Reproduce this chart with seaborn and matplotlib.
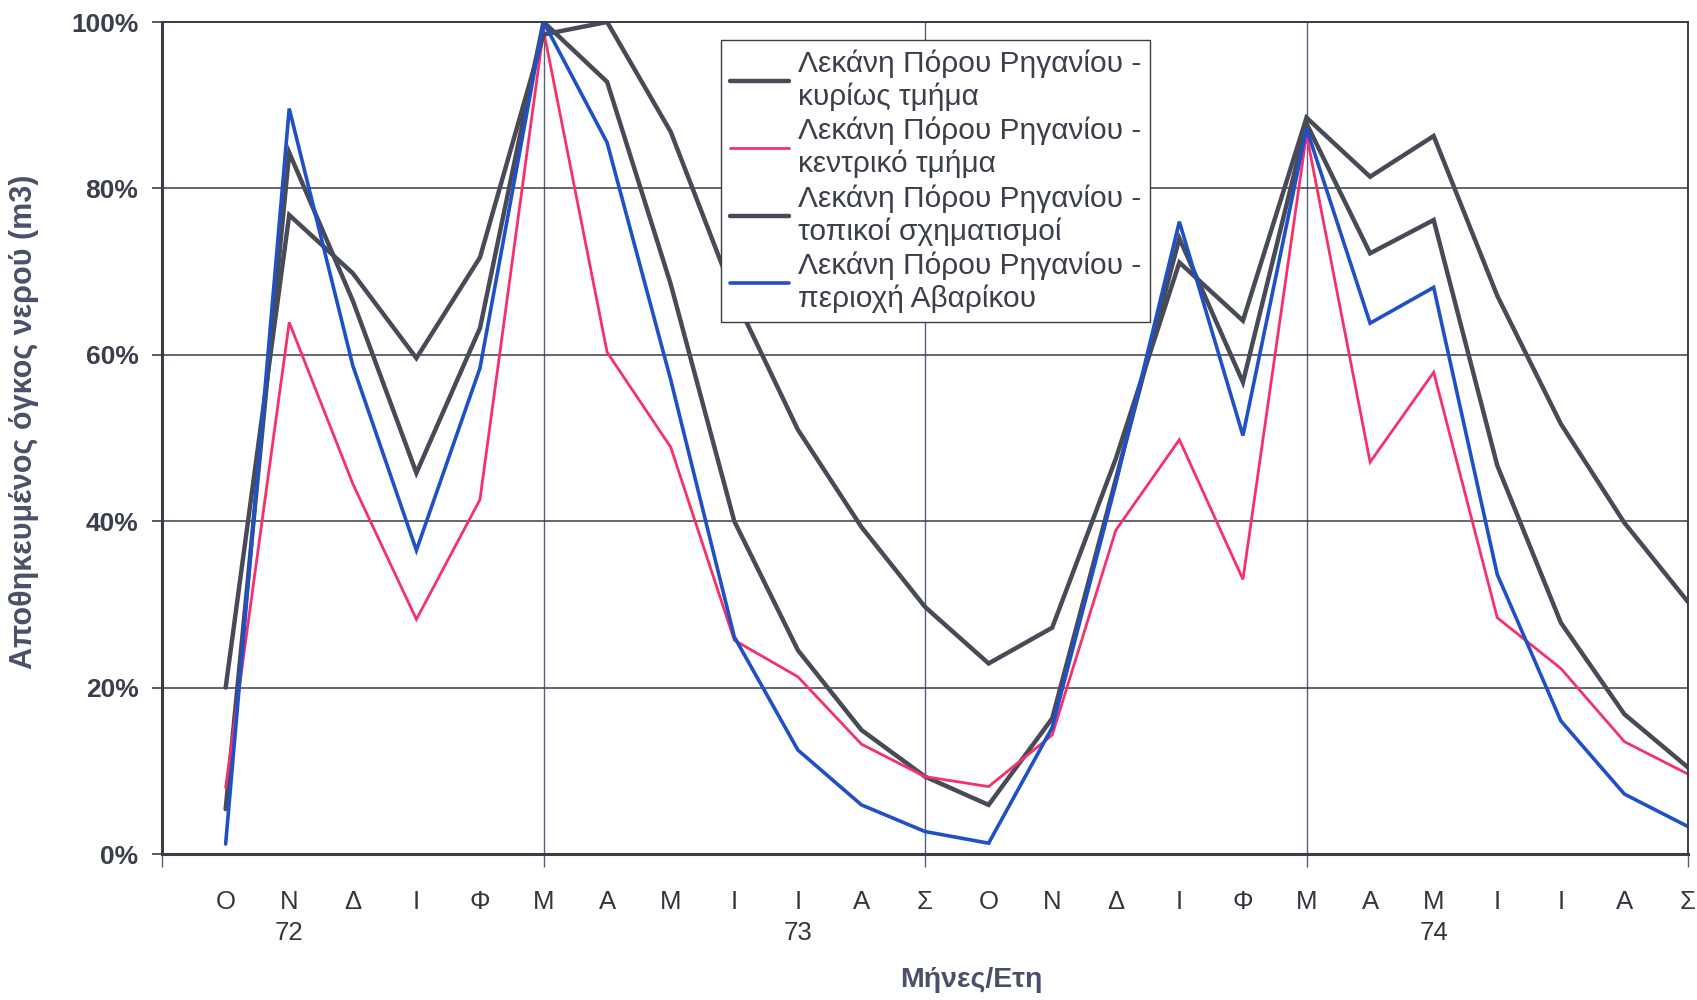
import numpy as np
import pandas as pd
import matplotlib
matplotlib.use("Agg")
import matplotlib.pyplot as plt
import matplotlib.transforms as mtransforms
from matplotlib.ticker import PercentFormatter, FixedLocator
import seaborn as sns

# ---------------- data ----------------
months = ["Ο", "Ν", "Δ", "Ι", "Φ", "Μ", "Α", "Μ", "Ι", "Ι", "Α", "Σ",
          "Ο", "Ν", "Δ", "Ι", "Φ", "Μ", "Α", "Μ", "Ι", "Ι", "Α", "Σ"]
years = ["72", "73", "74"]
year_pos = [1, 9, 19]

kyrios = [5.4, 84.3, 66.5, 45.8, 63.2, 100, 92.8, 68.5, 40.0, 24.5, 14.9, 9.3,
          5.9, 16.3, 45.0, 74.0, 56.7, 87.8, 72.2, 76.2, 46.7, 27.8, 16.8, 10.4]
kentriko = [8.0, 63.9, 44.5, 28.2, 42.6, 99.0, 60.3, 48.9, 25.7, 21.3, 13.2, 9.3,
            8.1, 14.3, 38.9, 49.8, 33.0, 86.5, 47.1, 57.9, 28.4, 22.3, 13.5, 9.6]
topikoi = [20.0, 76.8, 69.8, 59.6, 71.7, 98.5, 100, 86.8, 67.0, 51.0, 39.3, 29.7,
           22.9, 27.2, 47.5, 71.1, 64.1, 88.5, 81.4, 86.3, 67.1, 51.7, 39.8, 30.3]
avarikou = [1.2, 89.6, 58.7, 36.5, 58.4, 100, 85.5, 57.0, 26.1, 12.5, 5.9, 2.7,
            1.3, 15.2, 44.5, 76.0, 50.3, 87.2, 63.8, 68.1, 33.6, 16.0, 7.2, 3.3]

series_names = ["Λεκάνη Πόρου Ρηγανίου -\nκυρίως τμήμα",
                "Λεκάνη Πόρου Ρηγανίου -\nκεντρικό τμήμα",
                "Λεκάνη Πόρου Ρηγανίου -\nτοπικοί σχηματισμοί",
                "Λεκάνη Πόρου Ρηγανίου -\nπεριοχή Αβαρίκου"]
series_vals = [kyrios, kentriko, topikoi, avarikou]
colors = ["#474b57", "#f7306c", "#474b57", "#1f50c8"]
widths = [3.2, 2.0, 3.2, 2.6]

y_label = "Αποθηκευμένος όγκος νερού (m3)"
x_label = "Μήνες/Ετη"

# ---------------- plot ----------------
sns.set_theme(style="white")
plt.rcParams["font.family"] = ["Liberation Sans", "DejaVu Sans"]

txt = "#3b3f4c"
fig = plt.figure(figsize=(16.97, 10.0), dpi=100)
ax = fig.add_axes([0.0955, 0.146, 0.8992, 0.832])

idx = np.arange(len(months))
for name, vals, c, w in zip(series_names, series_vals, colors, widths):
    df = pd.DataFrame({"idx": idx, "val": vals})
    sns.lineplot(data=df, x="idx", y="val", ax=ax, color=c, linewidth=w,
                 label=name, solid_joinstyle="miter")

ax.set_xlim(-1, 23)
ax.set_ylim(0, 100)

# y axis
ax.set_yticks(np.arange(0, 101, 20))
ax.yaxis.set_major_formatter(PercentFormatter(decimals=0))
ax.tick_params(axis="y", which="major", direction="out", length=7, width=1.2,
               color=txt, pad=10, labelsize=19, labelcolor=txt, left=True)
for lab in ax.get_yticklabels():
    lab.set_fontweight("bold")
ax.yaxis.grid(True, which="major", color="#3a3d45", linewidth=1.1)

# x axis: month labels at points, boundary ticks/grid at -1,5,11,17,23
ax.set_xticks(idx)
ax.set_xticklabels(months)
ax.tick_params(axis="x", which="major", length=0, pad=26, labelsize=18.5,
               labelcolor="#33363f")
ax.xaxis.remove_overlapping_locs = False
ax.xaxis.set_minor_locator(FixedLocator([-1, 5, 11, 17, 23]))
ax.tick_params(axis="x", which="minor", direction="out", length=9, width=1.0,
               color="#55607a", bottom=True)
ax.xaxis.grid(False, which="major")
ax.xaxis.grid(True, which="minor", color="#55607a", linewidth=1.0)

for s in ["left", "bottom"]:
    ax.spines[s].set_color("#3a3d45")
    ax.spines[s].set_linewidth(2.2)
for s in ["top", "right"]:
    ax.spines[s].set_color("#3a3d45")
    ax.spines[s].set_linewidth(1.4)
ax.spines["top"].set_visible(True)
ax.spines["right"].set_visible(True)

# year labels
trans = mtransforms.blended_transform_factory(ax.transData, ax.transAxes)
for yl, yp in zip(years, year_pos):
    ax.text(yp, -0.095, yl, transform=trans, ha="center", va="center",
            fontsize=18.5, color="#33363f")

ax.set_xlabel("")
ax.set_ylabel("")
ax.text(0.530, -0.151, x_label, transform=ax.transAxes, ha="center",
        va="center", fontsize=20.5, fontweight="bold", color="#4a5068")
ax.text(-0.0904, 0.52, y_label, transform=ax.transAxes, ha="center",
        va="center", rotation=90, fontsize=22, fontweight="bold", color="#4a5068")

leg = ax.legend(loc="upper left", bbox_to_anchor=(0.366, 0.978),
                borderaxespad=0, frameon=True, fancybox=False, shadow=False,
                fontsize=21.5, handlelength=2.0, handletextpad=0.3,
                borderpad=0.3, labelspacing=0.2, framealpha=1)
leg.get_frame().set_edgecolor("#3a3d45")
leg.get_frame().set_linewidth(1.0)
for t in leg.get_texts():
    t.set_color(txt)
    t.set_linespacing(1.2)

fig.savefig("out.png", dpi=100, facecolor="white")
